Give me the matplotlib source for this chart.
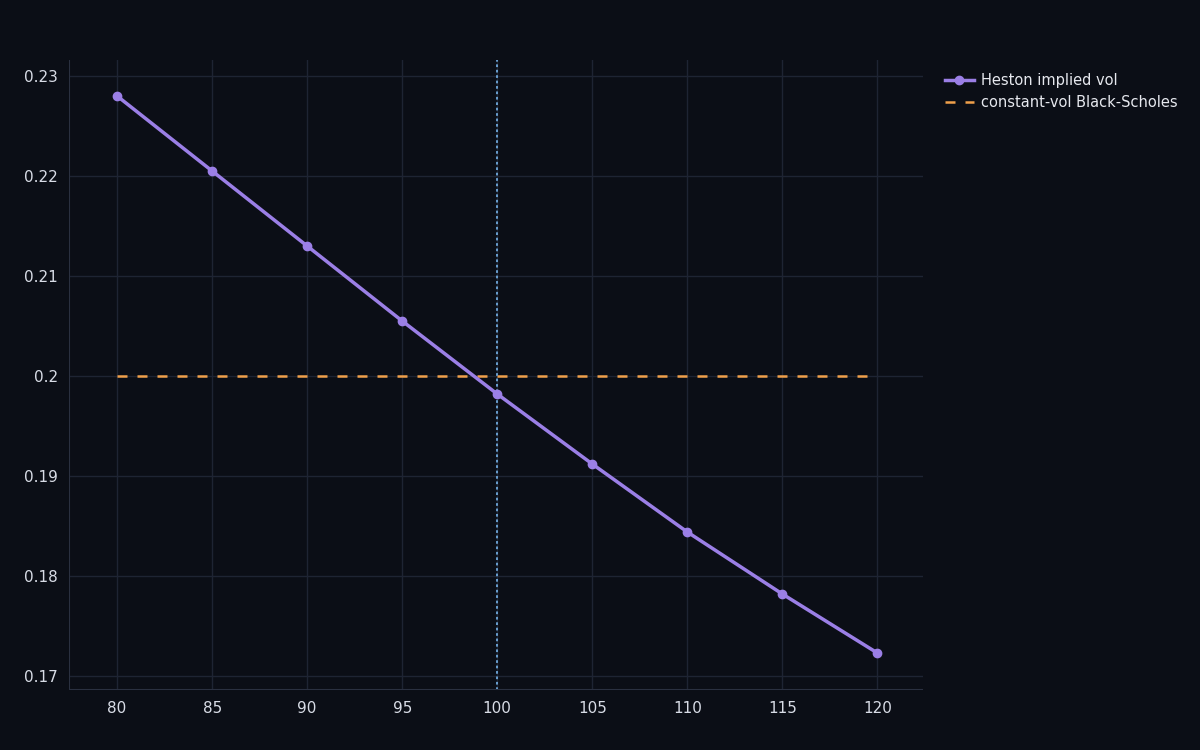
import matplotlib.pyplot as plt

strikes = [80, 85, 90, 95, 100, 105, 110, 115, 120]
heston_iv = [0.2280, 0.2205, 0.2130, 0.2055, 0.1982, 0.1912, 0.1844, 0.1782, 0.1723]
bs_vol = 0.2
spot = 100

bg = '#0b0e16'
fig = plt.figure(figsize=(12, 7.5), dpi=100, facecolor=bg)
ax = fig.add_axes([69/1200, 60/750, (923-69)/1200, (690-60)/750], facecolor=bg)

ax.plot(strikes, heston_iv, color='#9b7fe6', lw=2.5, marker='o', ms=6,
        label='Heston implied vol', zorder=3)
ax.plot([strikes[0], strikes[-1]], [bs_vol, bs_vol], color='#f0a04b', lw=1.8,
        ls=(0, (4, 4)), label='constant-vol Black-Scholes', zorder=2)
ax.axvline(spot, color='#6fa8dc', lw=1.3, ls=(0, (1.5, 1.5)), zorder=2)

ax.set_xlim(77.47, 122.4)
ax.set_ylim(0.1686, 0.2316)
ax.set_xticks(strikes)
ax.set_yticks([0.17, 0.18, 0.19, 0.2, 0.21, 0.22, 0.23])
ax.set_yticklabels(['0.17', '0.18', '0.19', '0.2', '0.21', '0.22', '0.23'])
ax.grid(color='#1e2433', lw=1)
ax.set_axisbelow(True)
for s in ax.spines.values():
    s.set_visible(False)
ax.axhline(0.1686, color='#2a3040', lw=1.5)
ax.axvline(77.47, color='#2a3040', lw=1.5)
ax.tick_params(colors='#d8dce6', labelsize=11, length=0, pad=8)

leg = ax.legend(loc='upper left', bbox_to_anchor=(1.01, 1.0), frameon=False,
                fontsize=10.5, handlelength=2, handletextpad=0.5,
                labelcolor='#e6e8ee')

fig.savefig('out.png', facecolor=bg)
